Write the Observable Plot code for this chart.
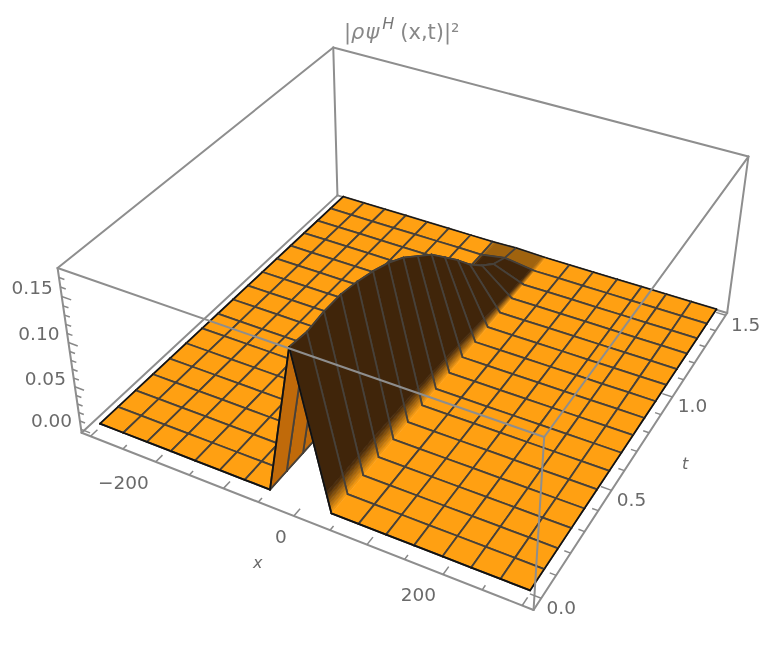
<!DOCTYPE html>
<html>
<head>
<meta charset="utf-8">
<script src="https://cdn.jsdelivr.net/npm/d3@7"></script>
<script src="https://cdn.jsdelivr.net/npm/@observablehq/plot@0.6"></script>
<style>
html,body{margin:0;padding:0;background:#fff;overflow:hidden}
#wrap{position:relative;width:774px;height:649px}
#wrap svg{display:block;filter:blur(0.7px)}
#title{position:absolute;left:344px;top:20px;font:21px "DejaVu Sans",sans-serif;color:#888;filter:blur(0.6px);white-space:nowrap}
#title i{letter-spacing:1px}
#title sup{font-size:16px;line-height:0;font-style:italic;position:relative;top:-2px;margin-right:6px;margin-left:2px;color:#777}
</style>
</head>
<body>
<div id="wrap"><div id="title">|<i>ρψ</i><sup>H</sup>(x,t)|²</div></div>
<script>
// --- data ---
const xMesh = [-300,-263.7,-227.4,-191.1,-154.9,-118.6,-82.3,-46,-8,40,77.1,114.3,151.4,188.6,225.7,262.9,300];
const tMesh = [0,0.09375,0.1875,0.28125,0.375,0.46875,0.5625,0.65625,0.75,0.84375,0.9375,1.03125,1.125,1.21875,1.3125,1.40625,1.5];
// height of the ridge crest on each t mesh line; floor 0 elsewhere
const crest = [0.168,0.165,0.168,0.168,0.164,0.158,0.150,0.139,0.124,0.109,0.089,0.069,0.047,0.029,0.014,0.005,0.001];
const crestX = -8, rightFootX = 40;
const xTicks = [-300,-250,-200,-150,-100,-50,0,50,100,150,200,250,300];
const xLabels = [-200,0,200];
const tTicks = [0,0.1,0.2,0.3,0.4,0.5,0.6,0.7,0.8,0.9,1,1.1,1.2,1.3,1.4,1.5];
const tLabels = [0,0.5,1,1.5];
const zTicks = [0,0.01,0.02,0.03,0.04,0.05,0.06,0.07,0.08,0.09,0.1,0.11,0.12,0.13,0.14,0.15,0.16,0.17];
const zLabels = [0,0.05,0.1,0.15];
const xRange = [-314,314], tRange = [-0.05,1.515], zRange = [-0.004,0.18];
// camera: where known points (x, t, z) land in the picture: box corners, then surface corners
const cameraLandmarks = [
  [xRange[0],tRange[0],zRange[0],82,428],[xRange[1],tRange[0],zRange[0],533,607],
  [xRange[1],tRange[1],zRange[0],727,312],[xRange[0],tRange[1],zRange[0],337,193],
  [xRange[0],tRange[0],zRange[1],57,268],[xRange[1],tRange[0],zRange[1],542,437],
  [xRange[1],tRange[1],zRange[1],748,155],[xRange[0],tRange[1],zRange[1],334,47],
  [-300,0,0,98,427],[300,0,0,532,592],[300,1.5,0,715,310],[-300,1.5,0,342,198]
];
const colors = {floor:"#ffa012", dark:"#40250a", under:"#c06a0a", mesh:"#47413a", edge:"#111111", box:"#8e8e8e"};

// --- camera fit ---
function solve(A,b){
  const n=b.length, M=A.map((r,i)=>[...r,b[i]]);
  for(let i=0;i<n;i++){
    let p=i; for(let r=i+1;r<n;r++) if(Math.abs(M[r][i])>Math.abs(M[p][i])) p=r;
    [M[i],M[p]]=[M[p],M[i]];
    for(let r=0;r<n;r++) if(r!==i){const f=M[r][i]/M[i][i]; for(let c=i;c<=n;c++) M[r][c]-=f*M[i][c];}
  }
  return M.map((r,i)=>r[n]/r[i]);
}
const norm=(x,t,z)=>[(x-xRange[0])/(xRange[1]-xRange[0]),(t-tRange[0])/(tRange[1]-tRange[0]),(z-zRange[0])/(zRange[1]-zRange[0])];
const rows=[],rhs=[];
for(const [x,t,z,u0,v0] of cameraLandmarks){
  const [X,Y,Z]=norm(x,t,z),u=u0/500,v=v0/500;
  rows.push([X,Y,Z,1,0,0,0,0,-u*X,-u*Y,-u*Z]); rhs.push(u);
  rows.push([0,0,0,0,X,Y,Z,1,-v*X,-v*Y,-v*Z]); rhs.push(v);
}
const ATA=Array.from({length:11},(_,i)=>Array.from({length:11},(_,j)=>d3.sum(rows,r=>r[i]*r[j])));
const ATb=Array.from({length:11},(_,i)=>d3.sum(rows,(r,k)=>r[i]*rhs[k]));
const P=solve(ATA,ATb);
function project(x,t,z){
  const [X,Y,Z]=norm(x,t,z);
  const w=P[8]*X+P[9]*Y+P[10]*Z+1;
  return [500*(P[0]*X+P[1]*Y+P[2]*Z+P[3])/w,500*(P[4]*X+P[5]*Y+P[6]*Z+P[7])/w];
}
// --- surface ---
const heightAt=(i,j)=>xMesh[i]===crestX?crest[j]:0;
const lerp=(a,b,f)=>a+(b-a)*f;
const mix=d3.interpolateRgb(colors.floor,colors.dark);
const paths=[]; let pid=0;
function addPath(pts,fill,stroke,sw){
  const id=pid++;
  pts.forEach(p=>{const q=project(p[0],p[1],p[2]);paths.push({id,px:q[0],py:q[1],fill,stroke,sw});});
}
function box(a,b){ addPath([a,b],"none",colors.box,2); }
const [x0,x1]=xRange,[t0,t1]=tRange,[z0,z1]=zRange;
box([x0,t0,z0],[x0,t1,z0]);box([x0,t1,z0],[x1,t1,z0]);box([x0,t1,z0],[x0,t1,z1]);
box([x0,t0,z0],[x0,t0,z1]);box([x1,t1,z0],[x1,t1,z1]);
box([x0,t0,z1],[x0,t1,z1]);box([x0,t1,z1],[x1,t1,z1]);
box([x0,t0,z0],[x1,t0,z0]);box([x1,t0,z0],[x1,t1,z0]);

const footBand=0.13, bandSteps=7;
const footStops=[...d3.range(bandSteps).map(k=>footBand*k/bandSteps),footBand,1];
for(let j=tMesh.length-2;j>=0;j--){
  for(let i=0;i<xMesh.length-1;i++){
    const xa=xMesh[i],xb=xMesh[i+1],ta=tMesh[j],tb=tMesh[j+1];
    const haa=heightAt(i,j),hba=heightAt(i+1,j),hab=heightAt(i,j+1),hbb=heightAt(i+1,j+1);
    const ridge=Math.max(haa,hba,hab,hbb)>0;
    if(!ridge){
      addPath([[xa,ta,0],[xb,ta,0],[xb,tb,0],[xa,tb,0],[xa,ta,0]],colors.floor,colors.floor,0.4);
    } else {
      const pa=project(xa,ta,haa),pb=project(xb,ta,hba),pc=project(xb,tb,hbb),pd=project(xa,tb,hab);
      const underside=d3.polygonArea([pa,pb,pc,pd])<0;
      const peak=(crest[j]+crest[j+1])/2;
      const stops=underside?[0,1]:footStops;
      for(let s=0;s<stops.length-1;s++){
        const u0=stops[s],u1=stops[s+1];
        const f0=xa===crestX?1-u1:u0,f1=xa===crestX?1-u0:u1;
        const a=Math.min(1,((u0+u1)/2)/footBand)*Math.min(1,peak/0.006);
        const aa=u1>=1?Math.min(1,peak/0.006):a;
        const fill=underside?colors.under:d3.rgb(mix(aa)).formatHex();
        const A=[lerp(xa,xb,f0),ta,lerp(haa,hba,f0)],B=[lerp(xa,xb,f1),ta,lerp(haa,hba,f1)],
              C=[lerp(xa,xb,f1),tb,lerp(hab,hbb,f1)],D=[lerp(xa,xb,f0),tb,lerp(hab,hbb,f0)];
        addPath([A,B,C,D,A],fill,fill,0.7);
      }
    }
    // mesh: t = const lines, and x = const lines except along the right foot of the ridge
    addPath([[xa,ta,haa],[xb,ta,hba]],"none",colors.mesh,1.8);
    addPath([[xa,tb,hab],[xb,tb,hbb]],"none",colors.mesh,1.8);
    addPath([[xa,ta,haa],[xa,tb,hab]],"none",xa===rightFootX?"none":colors.mesh,1.8);
    addPath([[xb,ta,hba],[xb,tb,hbb]],"none",xb===rightFootX?"none":colors.mesh,1.8);
    if(j===0) addPath([[xa,ta,haa],[xb,ta,hba]],"none",colors.edge,1.8);
    if(i===0) addPath([[xa,ta,haa],[xa,tb,hab]],"none",colors.edge,1.4);
    if(i===xMesh.length-2) addPath([[xb,ta,hba],[xb,tb,hbb]],"none",colors.edge,1.4);
    if(j===tMesh.length-2) addPath([[xa,tb,hab],[xb,tb,hbb]],"none",colors.edge,1);
  }
}
const boxTop=(a,b)=>addPath([a,b],"none",colors.box,2);
boxTop([x0,t0,z1],[x1,t0,z1]);boxTop([x1,t0,z1],[x1,t1,z1]);boxTop([x1,t0,z0],[x1,t0,z1]);

// ticks
const seg=[];
const addSeg=(a,b)=>{const p=project(...a),q=project(...b);seg.push({x1:p[0],y1:p[1],x2:q[0],y2:q[1]});};
xTicks.forEach(x=>{const m=x%100===0?0.035:0.02;addSeg([x,t0,z0],[x,t0+m,z0]);});
tTicks.forEach(t=>{const m=Math.abs(t*2-Math.round(t*2))<1e-6?14:8;addSeg([x1,t,z0],[x1-m,t,z0]);});
zTicks.forEach(z=>{const m=Math.abs(z*20-Math.round(z*20))<1e-6?14:8;addSeg([x0,t0,z],[x0+m,t0,z]);});

const lab=(vals,f,fmt)=>vals.map(v=>{const q=f(v);return {px:q[0],py:q[1],s:fmt(v)};});
const fontAttrs={fontFamily:"DejaVu Sans",fontSize:18.5,fill:"#6a6a6a"};
const chart=Plot.plot({
  width:774,height:649,margin:0,
  x:{domain:[0,774],range:[0,774],axis:null},
  y:{domain:[0,649],range:[0,649],axis:null},
  color:{type:"identity"},
  marks:[
    Plot.line(paths,{x:"px",y:"py",z:"id",fill:"fill",stroke:"stroke",strokeWidth:"sw",curve:"linear",strokeLinejoin:"round"}),
    Plot.link(seg,{x1:"x1",y1:"y1",x2:"x2",y2:"y2",stroke:"#888",strokeWidth:1.5}),
    Plot.text(lab(xLabels,v=>project(v,t0,z0),d3.format("d")),{x:"px",y:"py",text:"s",dx:-7,dy:21,textAnchor:"end",...fontAttrs}),
    Plot.text(lab(tLabels,v=>project(x1,v,z0),d3.format(".1f")),{x:"px",y:"py",text:"s",dx:20,dy:9.5,...fontAttrs}),
    Plot.text(lab(zLabels,v=>project(x0,t0,v),d3.format(".2f")),{x:"px",y:"py",text:"s",dx:-9,dy:-8,textAnchor:"end",...fontAttrs}),
    Plot.text(lab([0],v=>project(v,t0,z0),()=>"x"),{x:"px",y:"py",text:"s",dx:-36,dy:47,fontStyle:"italic",...fontAttrs,fontSize:16}),
    Plot.text(lab([0.75],v=>project(x1,v,z0),()=>"t"),{x:"px",y:"py",text:"s",dx:42,dy:22,fontStyle:"italic",...fontAttrs,fontSize:16})
  ]
});
document.getElementById("wrap").prepend(chart);
</script>
</body>
</html>
